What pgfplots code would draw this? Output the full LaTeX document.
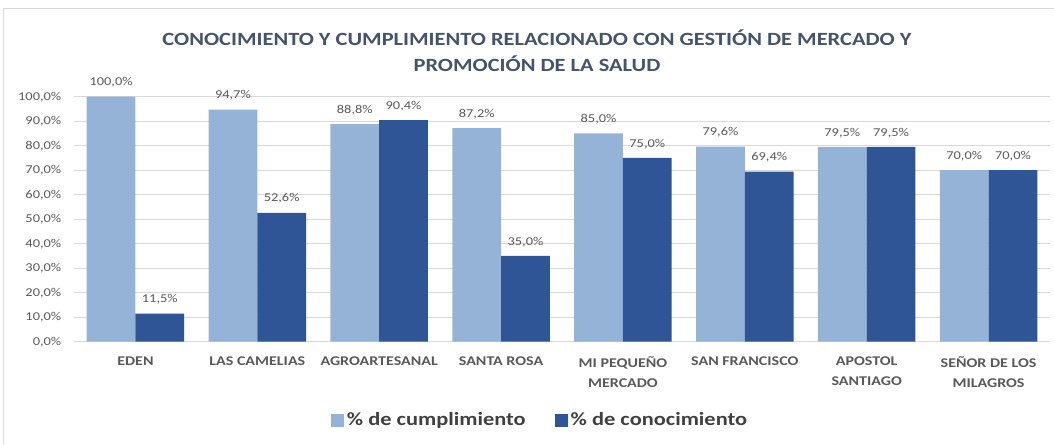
\documentclass[border=0pt]{standalone}
\usepackage{pgfplots}
\pgfplotsset{compat=1.18}
\usepackage{fontspec}
\setmainfont[FakeStretch=1.2]{Carlito}
\definecolor{lightbar}{HTML}{95B3D7}
\definecolor{darkbar}{HTML}{2F5597}
\definecolor{titlecol}{HTML}{44546A}
\definecolor{tickcol}{HTML}{595959}
\definecolor{legcol}{HTML}{404040}
\definecolor{gridcol}{HTML}{D9D9D9}
\begin{document}
\begin{tikzpicture}
\useasboundingbox (0pt,0pt) rectangle (790.5pt,333.75pt);
\draw[gridcol,line width=0.75pt] (2.25pt,0pt) -- (2.25pt,327.5pt) -- (790.5pt,327.5pt);
\node[align=center,font=\fontsize{14}{19.5}\selectfont\bfseries,text=titlecol] at (402.75pt,295.5pt)
  {CONOCIMIENTO Y CUMPLIMIENTO RELACIONADO CON GESTIÓN DE MERCADO Y\\PROMOCIÓN DE LA SALUD};
\begin{axis}[
  at={(55.875pt,77.475pt)}, anchor=south west,
  scale only axis, width=731.25pt, height=183.75pt,
  xmin=-0.5, xmax=7.5, ymin=0, ymax=100,
  ybar, bar width=0.4,
  axis line style={draw=none},
  major tick length=0pt,
  ymajorgrids, grid style={gridcol, line width=0.75pt},
  ytick={0,10,...,100},
  yticklabel={\pgfmathprintnumber[fixed,fixed zerofill,precision=1,use comma,assume math mode=true]{\tick}\%},
  yticklabel style={font=\fontsize{9}{11}\selectfont, text=tickcol, xshift=-6.4pt},
  xtick=data,
  xticklabels={EDEN,LAS CAMELIAS,AGROARTESANAL,SANTA ROSA,MI PEQUEÑO\\MERCADO,SAN FRANCISCO,APOSTOL\\SANTIAGO,SEÑOR DE LOS\\MILAGROS},
  xticklabel style={font=\fontsize{10}{15}\selectfont\bfseries, text=tickcol, align=center, yshift=-8pt, anchor=north},
  nodes near coords={\pgfmathprintnumber[fixed,fixed zerofill,precision=1,use comma,assume math mode=true]{\pgfplotspointmeta}\%},
  nodes near coords style={font=\fontsize{9}{11}\selectfont, text=tickcol, yshift=3.5pt},
  legend columns=2,
  legend style={at={(0.478,-0.32)}, anchor=center, draw=none, fill=none,
    font=\fontsize{14}{16}\selectfont\bfseries, text=legcol,
    /tikz/every even column/.append style={column sep=20pt}},
  legend image code/.code={\fill[#1] (0pt,-4.9pt) rectangle (9.75pt,4.9pt);},
  clip=false,
]
\addplot[fill=lightbar, draw=none, bar shift=-0.2] coordinates {(0,100) (1,94.7) (2,88.8) (3,87.2) (4,85.0) (5,79.6) (6,79.5) (7,70.0)};
\addplot[fill=darkbar, draw=none, bar shift=0.2] coordinates {(0,11.5) (1,52.6) (2,90.4) (3,35.0) (4,75.0) (5,69.4) (6,79.5) (7,70.0)};
\legend{\% de cumplimiento, \% de conocimiento}
\end{axis}
\end{tikzpicture}
\end{document}
